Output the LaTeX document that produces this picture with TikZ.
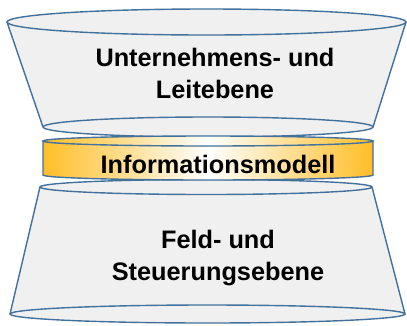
\documentclass[tikz,border=0pt]{standalone}
\usepackage{fontspec}
\setmainfont{Liberation Sans}
\usetikzlibrary{positioning}
\definecolor{rimblue}{RGB}{65,113,156}
\definecolor{layergray}{RGB}{240,240,240}
\definecolor{infogold}{RGB}{255,190,40}
\tikzstyle{rim} = [draw=rimblue, line width=1.4pt, fill=layergray]
\tikzstyle{side} = [draw=rimblue, line width=1.4pt]
\tikzstyle{gold} = [draw=rimblue, line width=1.4pt, left color=infogold, right color=infogold, middle color=white]
\tikzstyle{label} = [font=\fontsize{25.3}{32}\selectfont\bfseries, align=center, text=black]

\begin{document}
\begin{tikzpicture}[x=1pt, y=-1pt]
    \useasboundingbox (0,0) rectangle (407,325);

    % lower frustum
    \fill[layergray] (40,187) -- (10,314) -- (405,314) -- (372,187) -- cycle;
    \draw[side] (40,187) -- (10,314);
    \draw[side] (372,187) -- (405,314);
    \path[rim] (207.5,314) ellipse [x radius=197.5pt, y radius=9pt];
    \path[rim] (206,187) ellipse [x radius=166pt, y radius=7.5pt];

    % upper frustum
    \fill[layergray] (7,22) -- (43,127) -- (373,127) -- (406,22) -- cycle;
    \draw[side] (7,22) -- (43,127);
    \draw[side] (406,22) -- (373,127);
    \path[rim] (208,127) ellipse [x radius=165pt, y radius=10pt];
    \path[rim] (206.5,22) ellipse [x radius=199.5pt, y radius=13pt];

    % middle disc
    \path[gold] (43,141) -- (43,175)
        arc[start angle=180, end angle=360, x radius=165pt, y radius=5pt]
        -- (373,141) -- cycle;
    \path[gold] (208,141) ellipse [x radius=165pt, y radius=5pt];

    % Place nodes
    \node[label] (upper) at (215,73) {Unternehmens- und\\Leitebene};
    \node[label] (info) at (218,164) {Informationsmodell};
    \node[label] (lower) at (218,258) {Feld- und\\Steuerungsebene};
\end{tikzpicture}
\end{document}
